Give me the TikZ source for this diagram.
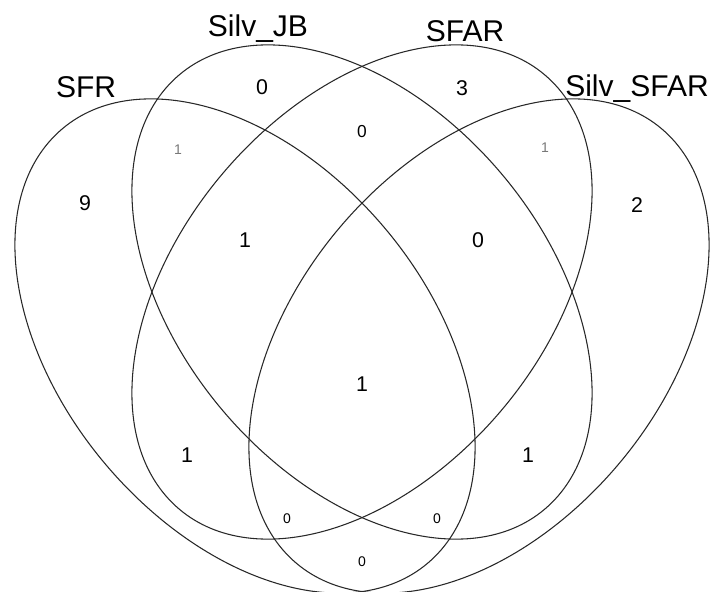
\documentclass[tikz,border=0pt]{standalone}
\usepackage{fontspec}
\setmainfont{Liberation Sans}
\usetikzlibrary{positioning}
\definecolor{ringgray}{RGB}{40,40,40}
\definecolor{fadegray}{RGB}{120,120,120}

\begin{document}
\begin{tikzpicture}[x=0.75pt, y=-0.75pt,
  vring/.style={draw=ringgray, line width=0.8pt},
  setlabel/.style={font=\fontsize{22.5}{26}\selectfont, anchor=base, inner sep=0pt},
  count/.style={font=\fontsize{16}{19}\selectfont, inner sep=0pt},
  smallcount/.style={font=\fontsize{10.5}{12}\selectfont, inner sep=0pt}]
\useasboundingbox (0,0) rectangle (715,592);
%--- ellissi esterne ---
\draw[vring, shift={(245,346)}, yscale=1.074, rotate=-45] (0,0) ellipse [x radius=273, y radius=177];
\draw[vring, shift={(479,346)}, yscale=1.074, rotate=45] (0,0) ellipse [x radius=273, y radius=177];
%--- ellissi interne ---
\draw[vring, shift={(362,292)}, yscale=1.074, rotate=-45] (0,0) ellipse [x radius=273, y radius=177];
\draw[vring, shift={(362,292)}, yscale=1.074, rotate=45] (0,0) ellipse [x radius=273, y radius=177];

%--- nomi degli insiemi ---
\node[setlabel] (sfr) at (86,98) {SFR};
\node[setlabel] (silvjb) at (258,37) {Silv\_JB};
\node[setlabel] (sfar) at (465,42) {SFAR};
\node[setlabel] (silvsfar) at (637,97) {Silv\_SFAR};

%--- conteggi ---
\foreach \v/\px/\py [count=\i] in {9/85/203, 0/262/87, 3/462/88, 2/637/205,
    1/245/240, 0/478/240, 1/362/384, 1/187/455, 1/528/455}{
  \node[count] (n\i) at (\px,\py) {\v};
}
\node[count, font=\fontsize{13}{15}\selectfont] (ntop) at (362,132) {0};
% zeri piccoli in basso
\foreach \px/\py [count=\i] in {287/519, 437/519, 362/562}{
  \node[smallcount] (z\i) at (\px,\py) {0};
}
% cifre sbiadite
\node[smallcount, text=fadegray] (fl) at (178,150) {1};
\node[smallcount, text=fadegray] (fr) at (545,148) {1};
\end{tikzpicture}
\end{document}
